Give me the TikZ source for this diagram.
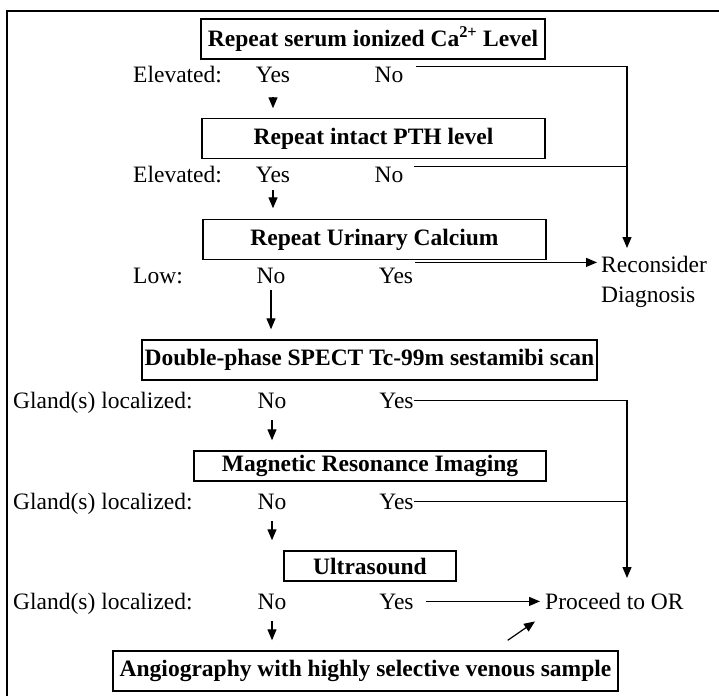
\documentclass[tikz,border=0pt]{standalone}
\usepackage{fontspec}
\setmainfont{Liberation Serif}
\usetikzlibrary{arrows.meta}

\begin{document}
\begin{tikzpicture}[
  x=1pt, y=-1pt,
  every node/.style={font=\fontsize{23.5}{30}\selectfont},
  box/.style={draw, line width=1.4pt, minimum height=40pt, inner xsep=2pt, inner ysep=0pt,
              align=center, font=\fontsize{23.5}{30}\selectfont\bfseries},
  lbl/.style={anchor=base west, inner sep=0pt},
  ans/.style={anchor=base, inner sep=0pt},
  arr/.style={-{Triangle[length=11pt,width=9pt]}, line width=1.2pt},
  ln/.style={line width=1.2pt}
]
\useasboundingbox (0,0) rectangle (719,696);
\draw[line width=1.4pt] (7,696) -- (7,11) -- (719,11);

\node[box, minimum width=344pt] (serum) at (373,39) {Repeat serum ionized Ca\textsuperscript{2+} Level};
\node[box, minimum width=343pt] (pth)   at (373.5,138.5) {Repeat intact PTH level};
\node[box, minimum width=343pt] (urine) at (374.5,239.5) {Repeat Urinary Calcium};
\node[box, minimum width=455pt] (spect) at (369.5,360) {Double-phase SPECT Tc-99m sestamibi scan};
\node[box, minimum width=352pt, minimum height=30pt] (mri) at (370,466) {Magnetic Resonance Imaging};
\node[box, minimum width=172pt, minimum height=30pt] (us)  at (370,566) {Ultrasound};
\node[box, minimum width=505pt] (angio) at (365.5,671) {Angiography with highly selective venous sample};

\node[lbl] (elev1) at (133,82) {Elevated:};
\node[ans] (yes1)  at (273,82) {Yes};
\node[ans] (no1)   at (389,82) {No};
\node[lbl] (elev2) at (133,182) {Elevated:};
\node[ans] (yes2)  at (273,182) {Yes};
\node[ans] (no2)   at (389,182) {No};
\node[lbl] (low3)  at (133,283) {Low:};
\node[ans] (no3)   at (271,283) {No};
\node[ans] (yes3)  at (396,283) {Yes};
\node[lbl] (gl4)   at (13,408) {Gland(s) localized:};
\node[ans] (no4)   at (272,408) {No};
\node[ans] (yes4)  at (396.5,408) {Yes};
\node[lbl] (gl5)   at (13,509) {Gland(s) localized:};
\node[ans] (no5)   at (272,509) {No};
\node[ans] (yes5)  at (396.5,509) {Yes};
\node[lbl] (gl6)   at (13,609) {Gland(s) localized:};
\node[ans] (no6)   at (272,609) {No};
\node[ans] (yes6)  at (396.5,609) {Yes};

\node[anchor=north west, inner sep=0pt, align=left] (recon) at (601,256) {Reconsider\\Diagnosis};
\node[lbl] (proc) at (545,609) {Proceed to OR};
\coordinate (rtip) at (627,248);
\coordinate (otip) at (627,578);

\draw[arr, shorten <=15pt, shorten >=9.5pt]  (yes1) -- (yes1 |- pth.north);
\draw[arr, shorten <=8pt, shorten >=10.5pt]  (yes2) -- (yes2 |- urine.north);
\draw[arr, shorten <=7pt, shorten >=10pt]    (no3) -- (no3 |- spect.north);
\draw[arr, shorten <=12pt, shorten >=10pt]   (no4) -- (no4 |- mri.north);
\draw[arr, shorten <=12pt, shorten >=10pt]   (no5) -- (no5 |- us.north);
\draw[arr, shorten <=12pt, shorten >=10pt]   (no6) -- (no6 |- angio.north);

\draw[arr, shorten <=12pt] (no1.north east) -| (rtip);
\draw[ln, shorten <=10pt]  (no2.north east) -- (no2.north east -| rtip);
\draw[arr, shorten <=2pt, shorten >=4pt] ([yshift=5pt]yes3.north east) -- ([yshift=5pt]yes3.north east -| recon.west);

\draw[arr] (yes4.east) -| (otip);
\draw[ln]  (yes5.east) -- (yes5.east -| otip);
\draw[arr, shorten <=12pt, shorten >=5pt] (yes6.east) -- (yes6.east -| proc.west);
\draw[arr] ([xshift=-111pt,yshift=10pt]angio.north east) -- ([xshift=-10pt,yshift=-12pt]proc.south west);
\end{tikzpicture}
\end{document}
